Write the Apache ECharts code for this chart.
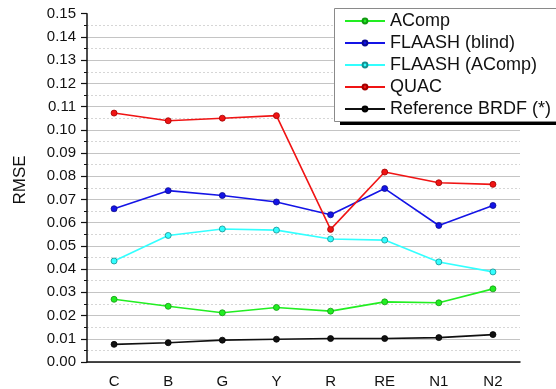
<!DOCTYPE html>
<html><head><meta charset="utf-8">
<script src="https://cdn.jsdelivr.net/npm/echarts@6/dist/echarts.min.js"></script>
<style>html,body{margin:0;padding:0;background:#fff}#c{width:556px;height:389px}</style>
</head><body><div id="c"></div>
<script>
const categories = ['C','B','G','Y','R','RE','N1','N2'];
const acomp = [0.0270,0.0240,0.0212,0.0235,0.0219,0.0259,0.0255,0.0315];
const flaashBlind = [0.0660,0.0738,0.0717,0.0689,0.0634,0.0747,0.0588,0.0674];
const flaashAcomp = [0.0435,0.0545,0.0573,0.0568,0.0530,0.0525,0.0431,0.0388];
const quac = [0.1072,0.1039,0.1050,0.1061,0.0571,0.0818,0.0772,0.0765];
const refBrdf = [0.0076,0.0083,0.0094,0.0098,0.0101,0.0101,0.0105,0.0118];
const seriesNames = ['AComp','FLAASH (blind)','FLAASH (AComp)','QUAC','Reference BRDF (*)'];
const seriesData = [acomp, flaashBlind, flaashAcomp, quac, refBrdf];
const lineColors = ['#22ee22','#1414e6','#33ffff','#f01414','#111111'];
const markerBorders = ['#119911','#0a0a90','#138f8f','#a00000','#000000'];

const gridColors = [];
for (let i = 0; i < 16; i++) gridColors.push(i === 15 ? 'rgba(0,0,0,0)' : '#c4c4c4');

const chart = echarts.init(document.getElementById('c'), null, {renderer:'canvas'});
chart.setOption({
  animation:false,
  backgroundColor:'#fff',
  textStyle:{fontFamily:'Liberation Sans, Arial, sans-serif'},
  grid:{left:87,right:36,top:13.7,bottom:26.3,containLabel:false},
  graphic:[{
    type:'rect', left:340, top:12, z:3,
    shape:{width:260, height:113},
    style:{fill:'#000'}
  },{
    type:'rect', left:334, top:8, z:3,
    shape:{width:260, height:113},
    style:{fill:'#fff', stroke:'#8a8a8a', lineWidth:1}
  }],
  legend:{
    orient:'vertical', left:334, top:8, z:4,
    padding:[4,10,3,10],
    itemWidth:40, itemHeight:6, itemGap:4,
    textStyle:{fontSize:18, lineHeight:18, color:'#111', fontFamily:'Liberation Sans, Arial, sans-serif'},
    data:seriesNames
  },
  xAxis:{
    type:'category', data:categories, boundaryGap:true,
    axisLine:{lineStyle:{color:'#111',width:1.5}},
    axisTick:{alignWithLabel:true,length:6,lineStyle:{color:'#111',width:1.2}},
    axisLabel:{fontSize:15,color:'#111',margin:12},
    splitLine:{show:false}
  },
  yAxis:{
    type:'value', min:0, max:0.15, interval:0.01,
    name:'RMSE', nameLocation:'middle', nameRotate:90, nameGap:58,
    nameTextStyle:{fontSize:17,color:'#111',padding:[0,0,0,16]},
    axisLine:{show:true,lineStyle:{color:'#111',width:1.5}},
    axisTick:{show:true,length:6,lineStyle:{color:'#111',width:1.2}},
    minorTick:{show:true,splitNumber:2,length:3,lineStyle:{color:'#111',width:1}},
    axisLabel:{fontSize:15,color:'#111',margin:11,formatter:v=>v.toFixed(2)},
    splitLine:{show:true,lineStyle:{color:gridColors,width:1}},
    minorSplitLine:{show:true,lineStyle:{color:'#d6d6d6',type:[2,2],width:1}}
  },
  series: seriesNames.map((n,i)=>({
    name:n, type:'line', data:seriesData[i],
    symbol:'circle', symbolSize:6,
    lineStyle:{color:lineColors[i],width:1.6},
    itemStyle:{color:lineColors[i],borderColor:markerBorders[i],borderWidth:0.8},
    z: 2
  }))
});
</script></body></html>
